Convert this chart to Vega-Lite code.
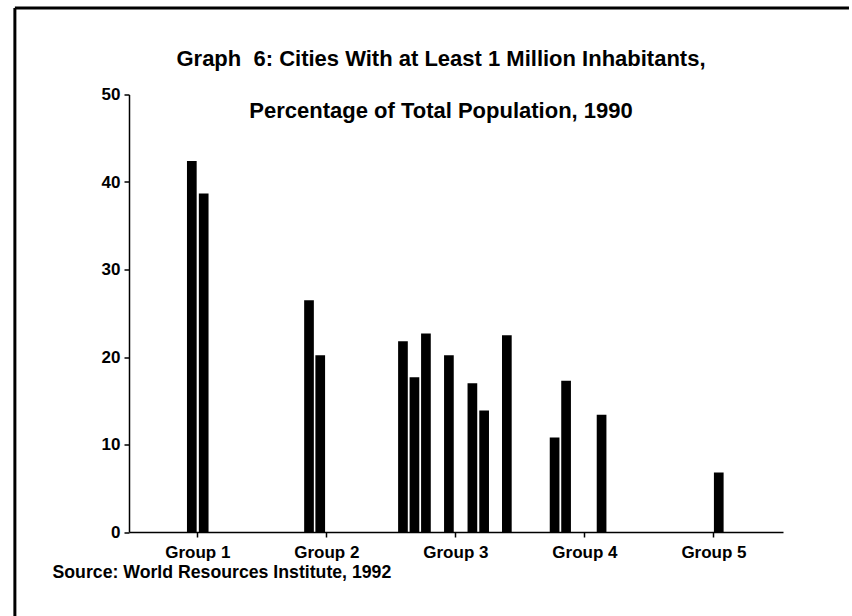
{
  "$schema": "https://vega.github.io/schema/vega-lite/v6.json",
  "width": 654,
  "height": 437.5,
  "autosize": {"type": "none"},
  "padding": {"left": 129, "top": 94.5, "right": 69, "bottom": 84},
  "background": "white",
  "config": {"view": {"stroke": null}, "font": "Liberation Sans"},
  "title": {
    "text": ["Graph\u00a0 6: Cities With at Least 1 Million Inhabitants,", "Percentage of Total Population, 1990"],
    "font": "Liberation Sans",
    "fontSize": 22,
    "fontWeight": "bold",
    "color": "black",
    "lineHeight": 52,
    "anchor": "middle",
    "frame": "group",
    "offset": -117,
    "dx": -15
  },
  "data": {
    "values": [
      {"group": "Group 1", "position": 0.958, "percent": 42.4},
      {"group": "Group 1", "position": 1.050, "percent": 38.7},
      {"group": "Group 2", "position": 1.866, "percent": 26.5},
      {"group": "Group 2", "position": 1.953, "percent": 20.2},
      {"group": "Group 3", "position": 2.594, "percent": 21.8},
      {"group": "Group 3", "position": 2.683, "percent": 17.7},
      {"group": "Group 3", "position": 2.772, "percent": 22.7},
      {"group": "Group 3", "position": 2.950, "percent": 20.2},
      {"group": "Group 3", "position": 3.132, "percent": 17.0},
      {"group": "Group 3", "position": 3.223, "percent": 13.9},
      {"group": "Group 3", "position": 3.399, "percent": 22.5},
      {"group": "Group 4", "position": 3.769, "percent": 10.8},
      {"group": "Group 4", "position": 3.858, "percent": 17.3},
      {"group": "Group 4", "position": 4.133, "percent": 13.4},
      {"group": "Group 5", "position": 5.041, "percent": 6.8}
    ]
  },
  "layer": [
    {
      "mark": {"type": "bar", "width": 9.7, "color": "black"},
      "encoding": {
        "x": {
          "field": "position",
          "type": "quantitative",
          "scale": {"domain": [0.51, 5.5], "nice": false, "zero": false},
          "axis": {
            "values": [1, 2, 3, 4, 5],
            "labelExpr": "'Group ' + datum.value",
            "grid": false,
            "domainColor": "black",
            "domainWidth": 1.5,
            "tickColor": "black",
            "tickWidth": 1.5,
            "tickSize": 5,
            "labelPadding": 7,
            "labelFont": "Liberation Sans",
            "labelFontSize": 17,
            "labelFontWeight": "bold",
            "labelColor": "black",
            "title": "Source: World Resources Institute, 1992",
            "titleFont": "Liberation Sans",
            "titleFontSize": 17.7,
            "titleFontWeight": "bold",
            "titleColor": "black",
            "titleAlign": "left",
            "titleAnchor": "start",
            "titleBaseline": "alphabetic",
            "titleX": -77,
            "titleY": 45
          }
        },
        "y": {
          "field": "percent",
          "type": "quantitative",
          "scale": {"domain": [0, 50], "nice": false},
          "axis": {
            "values": [0, 10, 20, 30, 40, 50],
            "grid": false,
            "title": null,
            "domainColor": "black",
            "domainWidth": 1.5,
            "tickColor": "black",
            "tickWidth": 1.5,
            "tickSize": 5,
            "labelPadding": 4,
            "labelFont": "Liberation Sans",
            "labelFontSize": 17,
            "labelFontWeight": "bold",
            "labelColor": "black"
          }
        }
      }
    },
    {
      "data": {"values": [{"edge": "top"}]},
      "mark": {"type": "rule", "color": "black", "strokeWidth": 3},
      "encoding": {
        "x": {"datum": -0.413, "type": "quantitative"},
        "x2": {"datum": 6.05},
        "y": {"datum": 59.9, "type": "quantitative"}
      }
    },
    {
      "data": {"values": [{"edge": "left"}]},
      "mark": {"type": "rule", "color": "black", "strokeWidth": 3},
      "encoding": {
        "x": {"datum": -0.413, "type": "quantitative"},
        "y": {"datum": 59.9, "type": "quantitative"},
        "y2": {"datum": -10}
      }
    }
  ]
}
